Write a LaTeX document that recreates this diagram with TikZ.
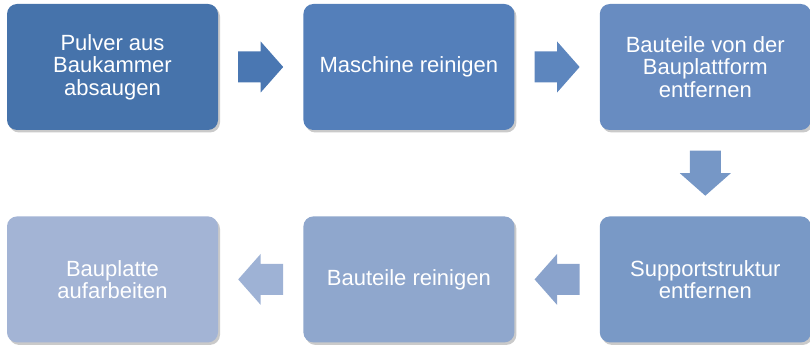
\documentclass[tikz,border=0pt]{standalone}
\usepackage{fontspec}
\setmainfont{Liberation Sans}
\usetikzlibrary{positioning, calc, shadows}

\definecolor{stepA}{RGB}{70,115,171}
\definecolor{stepB}{RGB}{84,127,186}
\definecolor{stepC}{RGB}{104,140,193}
\definecolor{stepD}{RGB}{121,153,198}
\definecolor{stepE}{RGB}{143,167,205}
\definecolor{stepF}{RGB}{163,180,213}
\definecolor{pfeilA}{RGB}{74,119,178}
\definecolor{pfeilB}{RGB}{93,134,190}
\definecolor{pfeilC}{RGB}{118,151,198}
\definecolor{pfeilD}{RGB}{138,163,204}
\definecolor{pfeilE}{RGB}{158,178,213}

% Blockpfeil: Farbe, Mittelpunkt, Drehwinkel
\newcommand{\blockpfeil}[3]{%
  \fill[#1, shift={(#2)}, rotate=#3] (-22.5,-15.5) -- (0,-15.5) -- (0,-25.5) -- (22.5,0)
    -- (0,25.5) -- (0,15.5) -- (-22.5,15.5) -- cycle;}

\tikzset{
  stepbox/.style={rounded corners=10pt, minimum width=211pt, minimum height=126pt,
    text=white, align=center, font=\fontsize{22}{22.5}\selectfont,
    drop shadow={shadow xshift=2pt, shadow yshift=-2.5pt, opacity=0.35, fill=black!60}}
}

\begin{document}
\begin{tikzpicture}[x=1pt, y=1pt]
        \useasboundingbox (0,0) rectangle (810,348);

        % obere Reihe
        \node[stepbox, fill=stepA] (absaugen) at (112.5,281) {Pulver aus\\Baukammer\\absaugen};
        \node[stepbox, fill=stepB, right=85pt of absaugen] (reinigen) {Maschine reinigen};
        \node[stepbox, fill=stepC, right=85pt of reinigen] (entfernen) {Bauteile von der\\Bauplattform\\entfernen};

        % untere Reihe
        \node[stepbox, fill=stepD, below=86pt of entfernen] (support) {Supportstruktur\\entfernen};
        \node[stepbox, fill=stepE, left=85pt of support] (teile) {Bauteile reinigen};
        \node[stepbox, fill=stepF, left=85pt of teile] (platte) {Bauplatte\\aufarbeiten};

        % Pfeile zwischen den Schritten
        \coordinate (p1) at ($(absaugen.east)!0.5!(reinigen.west)$);
        \coordinate (p2) at ($(reinigen.east)!0.5!(entfernen.west)$);
        \coordinate (p3) at ($(entfernen.south)!0.5!(support.north)$);
        \coordinate (p4) at ($(support.west)!0.5!(teile.east)$);
        \coordinate (p5) at ($(teile.west)!0.5!(platte.east)$);
        \blockpfeil{pfeilA}{p1}{0}
        \blockpfeil{pfeilB}{p2}{0}
        \blockpfeil{pfeilC}{p3}{-90}
        \blockpfeil{pfeilD}{p4}{180}
        \blockpfeil{pfeilE}{p5}{180}
\end{tikzpicture}
\end{document}
